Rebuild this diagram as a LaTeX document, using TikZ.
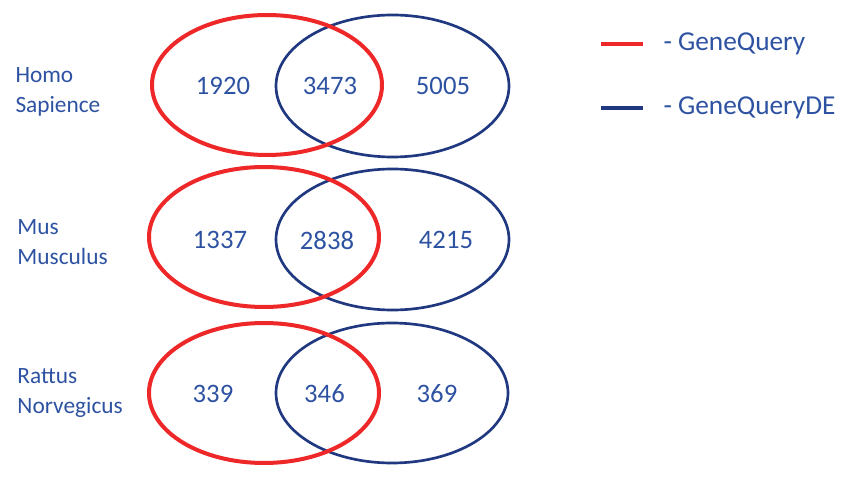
\documentclass[tikz,border=0pt]{standalone}
\usepackage{fontspec}
\setmainfont{Carlito}
\definecolor{vennred}{RGB}{238,40,40}
\definecolor{vennblue}{RGB}{31,56,128}
\definecolor{txtblue}{RGB}{46,82,162}

\tikzset{every picture/.style={line width=0.75pt}}
\tikzset{
  redset/.style={draw=vennred,line width=3pt},
  blueset/.style={draw=vennblue,line width=2pt},
  count/.style={inner sep=0.75pt,text=txtblue,font=\fontsize{20}{24}\selectfont},
  species/.style={anchor=west,inner sep=0.75pt,align=left,text=txtblue,font=\fontsize{17.5}{22.5}\selectfont},
  legendtxt/.style={anchor=west,inner sep=0.75pt,text=txtblue,font=\fontsize{20.5}{24}\selectfont}
}

\begin{document}
\begin{tikzpicture}[x=0.75pt,y=0.75pt,yscale=-1,xscale=1]
\useasboundingbox (0,0) rectangle (851,477);

%Shape: Ellipse [Homo Sapience]
\draw [blueset] (392.5,86) ellipse (116.5 and 71);
\draw [redset] (267,85) ellipse (115 and 70);
%Shape: Ellipse [Mus Musculus]
\draw [blueset] (392.5,239.5) ellipse (116.5 and 70.5);
\draw [redset] (264,237) ellipse (115 and 70);
%Shape: Ellipse [Rattus Norvegicus]
\draw [blueset] (392,393) ellipse (116 and 70);
\draw [redset] (264,393) ellipse (115 and 70);

% Text Node
\node [species] (homo) at (14,92) {Homo\\Sapience};
% Text Node
\node [species] (mus) at (16,242) {Mus\\Musculus};
% Text Node
\node [species] (rattus) at (16,393) {Rattus\\Norvegicus};

% Text Node
\node [count] (hs1) at (223,86) {1920};
\node [count] (hs2) at (330,86) {3473};
\node [count] (hs3) at (443,86) {5005};
% Text Node
\node [count] (mm1) at (220,240) {1337};
\node [count] (mm2) at (327,240) {2838};
\node [count] (mm3) at (446,240) {4215};
% Text Node
\node [count] (rn1) at (213,394) {339};
\node [count] (rn2) at (324.5,394) {346};
\node [count] (rn3) at (437,394) {369};

%Legend
\coordinate (redA) at (601,44);
\coordinate (redB) at (643,44);
\coordinate (bluA) at (601,108);
\coordinate (bluB) at (643,108);
\draw [draw=vennred,line width=2.5pt] (redA) -- (redB);
\draw [draw=vennblue,line width=2.5pt] (bluA) -- (bluB);
% Text Node
\node [legendtxt] (lgq) at (662,44) {- GeneQuery};
% Text Node
\node [legendtxt] (lgqde) at (662,108) {- GeneQueryDE};

\end{tikzpicture}
\end{document}
